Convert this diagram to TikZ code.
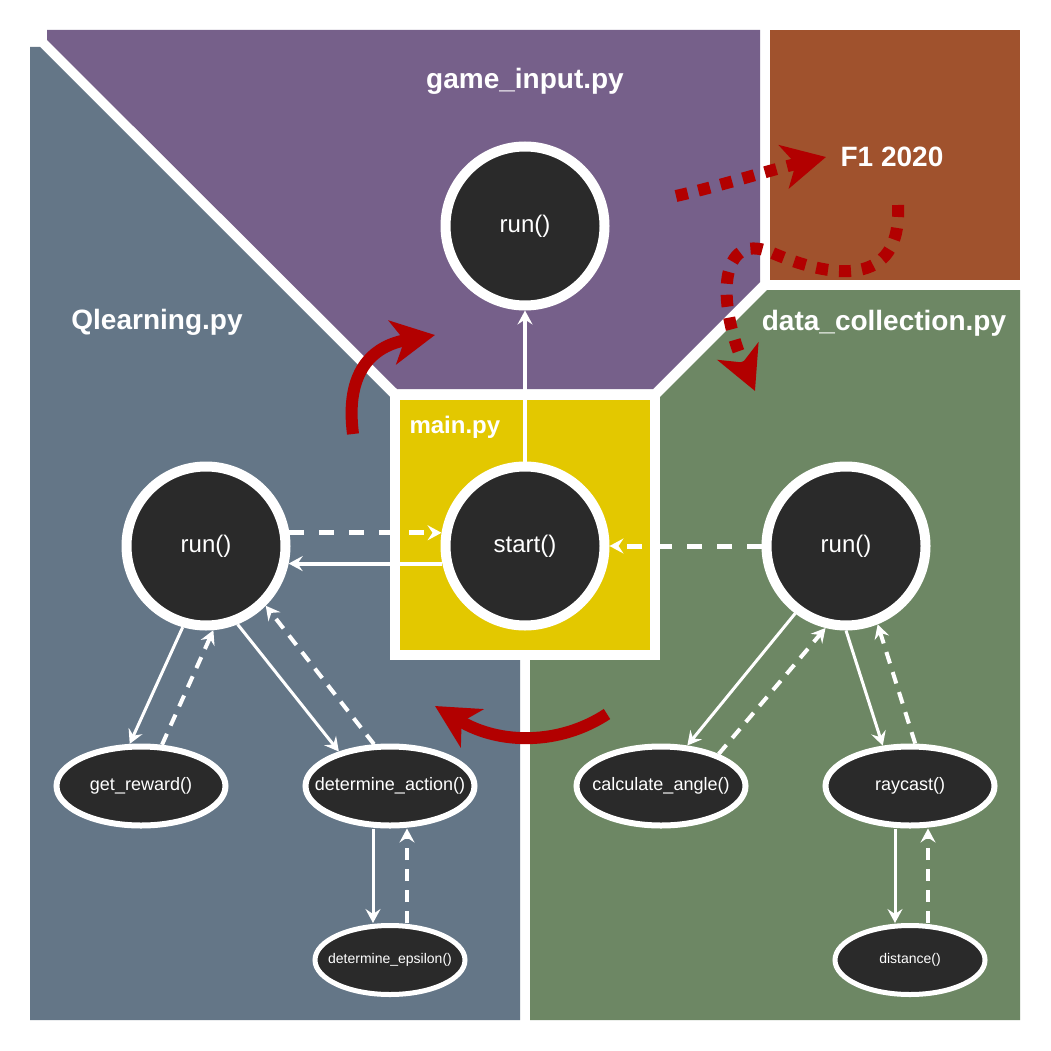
\documentclass[tikz,border=0pt]{standalone}
\usepackage{fontspec}
\setmainfont{Liberation Sans}
\usepackage{tikz}
\usetikzlibrary{shapes}
\usetikzlibrary{arrows.meta}

\definecolor{slate}{HTML}{647687}
\definecolor{mauve}{HTML}{76608A}
\definecolor{sienna}{HTML}{A0522D}
\definecolor{olive}{HTML}{6D8764}
\definecolor{gold}{HTML}{E3C800}
\definecolor{ink}{HTML}{2A2A2A}
\definecolor{crimson}{HTML}{B20000}

\begin{document}
\begin{tikzpicture}[x=1pt, y=-1pt,
every node/.style={text=white},
bigfunc/.style={circle, fill=ink, draw=white, line width=10pt, minimum size=159pt, inner sep=0pt,
  font=\fontsize{24}{28}\selectfont},
func/.style={ellipse, fill=ink, draw=white, line width=6pt, minimum width=169pt, minimum height=79pt,
  inner xsep=-45pt, inner ysep=0pt, font=\fontsize{18}{22}\selectfont},
subfunc/.style={func, line width=5pt, minimum width=150pt, minimum height=69pt,
  font=\fontsize{14}{17}\selectfont},
filename/.style={font=\fontsize{28}{32}\selectfont\bfseries},
mainbox/.style={rectangle, fill=gold, draw=white, line width=10pt, minimum size=260pt, inner sep=0pt},
call/.style={draw=white, line width=3pt, -{Stealth[length=14pt,width=15pt,inset=5pt]}},
back/.style={call, line width=4pt, dash pattern=on 12pt off 9pt},
link/.style={call, line width=4pt},
ret/.style={call, line width=5pt, dash pattern=on 15pt off 15pt},
flow/.style={draw=crimson, line width=12pt, -{Stealth[length=43pt,width=44pt,inset=12pt]}},
hop/.style={flow, dash pattern=on 12pt off 11pt}
]
  \useasboundingbox (0,0) rectangle (1051,1051);
  \fill[white] (0,0) rectangle (1051,1051);
  \fill[slate] (30,47) -- (40,47) -- (395,402) -- (520,402) -- (520,1020) -- (30,1020) -- cycle;
  \fill[mauve] (47,30) -- (760,30) -- (760,282) -- (653,389) -- (397,389) -- (47,40) -- cycle;
  \fill[sienna] (770,30) rectangle (1020,280);
  \fill[olive] (767,290) -- (1020,290) -- (1020,1020) -- (530,1020) -- (530,660) -- (660,660) -- (660,397) -- cycle;
  \node[mainbox] (main) at (525,525) {};

  \node[filename] (gamefile) at (525,81) {game\_input.py};
  \node[filename] (f1) at (892,157) {F1 2020};
  \node[filename] (qfile) at (157,322) {Qlearning.py};
  \node[filename] (dcfile) at (884,323) {data\_collection.py};
  \node[filename, font=\fontsize{24}{28}\selectfont\bfseries, anchor=west] (mainfile) at (406,427) {main.py};

  \node[bigfunc] (grun) at (525,226) {run()};
  \node[bigfunc] (start) at (525,546) {start()};
  \node[bigfunc] (qrun) at (206,546) {run()};
  \node[bigfunc] (dcrun) at (846,546) {run()};
  \node[func] (reward) at (141,786) {get\_reward()};
  \node[func] (action) at (390,786) {determine\_action()};
  \node[subfunc] (epsilon) at (390,960) {determine\_epsilon()};
  \node[func] (calc) at (661,786) {calculate\_angle()};
  \node[func] (raycast) at (910,786) {raycast()};
  \node[subfunc] (distance) at (910,960) {distance()};

  \draw[link] (start) -- (grun);
  \draw[ret] (qrun.9) -- (start.171);
  \draw[link] (start.192) -- (qrun.-12);
  \draw[ret] (dcrun) -- (start);
  \draw[call] (qrun.-106) -- (reward.105);
  \draw[back] (reward.63) -- (qrun.-85);
  \draw[call] (qrun.-68) -- (action.146);
  \draw[back] (action.111) -- (qrun.-45);
  \draw[call] ([xshift=-17pt]action.south) -- ([xshift=-17pt]epsilon.north);
  \draw[back] ([xshift=17pt]epsilon.north) -- ([xshift=17pt]action.south);
  \draw[call] (dcrun.-127) -- (calc.57);
  \draw[back] (calc.29) -- (dcrun.-104);
  \draw[call] (dcrun.-90) -- (raycast.124);
  \draw[back] (raycast.83) -- (dcrun.-68);
  \draw[call] ([xshift=-15pt]raycast.south) -- ([xshift=-15pt]distance.north);
  \draw[back] ([xshift=18pt]distance.north) -- ([xshift=18pt]raycast.south);

  \coordinate (qout) at (353,434);
  \coordinate (gin) at (435,335);
  \coordinate (dcout) at (607,714);
  \coordinate (qin) at (435,706);
  \coordinate (gout) at (676,196);
  \coordinate (f1in) at (826,157);
  \coordinate (f1out) at (898,205);
  \coordinate (dcin) at (755,391);
  \draw[flow] (qout) .. controls (345,372) and (372,346) .. (gin);
  \draw[flow] (dcout) .. controls (560,745) and (500,745) .. (qin);
  \draw[hop] (gout) .. controls (720,186) and (770,170) .. (f1in);
  \draw[hop] (f1out) .. controls (902,290) and (830,278) .. (770,252)
    .. controls (720,232) and (716,300) .. (dcin);
\end{tikzpicture}
\end{document}
